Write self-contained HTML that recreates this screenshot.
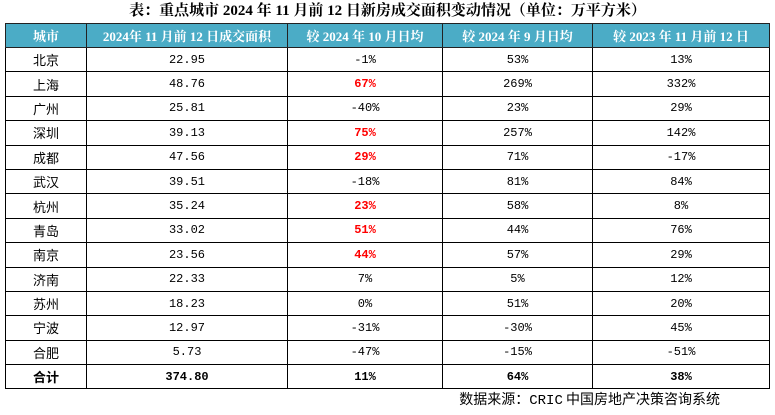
<!DOCTYPE html>
<html><head><meta charset="utf-8"><style>
body{margin:0;width:775px;height:415px;background:#fff;position:relative;overflow:hidden;font-family:"Liberation Serif","Noto Serif CJK SC","Noto Sans CJK SC",serif;}
.title{position:absolute;left:0;width:775px;top:0;height:22px;text-align:center;font-weight:bold;font-size:15px;line-height:22px;color:#000;}
table{position:absolute;left:5px;top:23px;border-collapse:collapse;table-layout:fixed;font-size:13px;}
td,th{text-align:center;padding:0;height:23.4px;border:1px solid #000;border-left:1px solid #000;}
td{font-family:"Liberation Mono","Noto Sans CJK SC",monospace;font-size:12px;}
td:first-child{font-family:"Noto Sans CJK SC",sans-serif;font-size:13px;}
th{background:#4bacc6;color:#fff;font-weight:bold;font-size:13px;height:23px;border-color:#222;}
tr td{border-top:1.5px solid #000;}
.red{color:#f00;font-weight:bold;}
.tot td{font-weight:bold;}
.src{position:absolute;right:55px;top:389px;font-size:14px;font-family:"Noto Sans CJK SC",sans-serif;}
</style></head><body>
<div class="title">表：重点城市 2024 年 11 月前 12 日新房成交面积变动情况（单位：万平方米）</div>
<table>
<colgroup><col style="width:81px"><col style="width:201px"><col style="width:155px"><col style="width:150px"><col style="width:177px"></colgroup>
<tr><th>城市</th><th>2024年 11 月前 12 日成交面积</th><th>较 2024 年 10 月日均</th><th>较 2024 年 9 月日均</th><th>较 2023 年 11 月前 12 日</th></tr>
<tr><td>北京</td><td>22.95</td><td>-1%</td><td>53%</td><td>13%</td></tr>
<tr><td>上海</td><td>48.76</td><td class="red">67%</td><td>269%</td><td>332%</td></tr>
<tr><td>广州</td><td>25.81</td><td>-40%</td><td>23%</td><td>29%</td></tr>
<tr><td>深圳</td><td>39.13</td><td class="red">75%</td><td>257%</td><td>142%</td></tr>
<tr><td>成都</td><td>47.56</td><td class="red">29%</td><td>71%</td><td>-17%</td></tr>
<tr><td>武汉</td><td>39.51</td><td>-18%</td><td>81%</td><td>84%</td></tr>
<tr><td>杭州</td><td>35.24</td><td class="red">23%</td><td>58%</td><td>8%</td></tr>
<tr><td>青岛</td><td>33.02</td><td class="red">51%</td><td>44%</td><td>76%</td></tr>
<tr><td>南京</td><td>23.56</td><td class="red">44%</td><td>57%</td><td>29%</td></tr>
<tr><td>济南</td><td>22.33</td><td>7%</td><td>5%</td><td>12%</td></tr>
<tr><td>苏州</td><td>18.23</td><td>0%</td><td>51%</td><td>20%</td></tr>
<tr><td>宁波</td><td>12.97</td><td>-31%</td><td>-30%</td><td>45%</td></tr>
<tr><td>合肥</td><td>5.73</td><td>-47%</td><td>-15%</td><td>-51%</td></tr>
<tr class="tot"><td>合计</td><td>374.80</td><td>11%</td><td>64%</td><td>38%</td></tr>
</table>
<div class="src">数据来源：<span style="font-family:'Liberation Mono',monospace">CRIC</span> 中国房地产决策咨询系统</div>
</body></html>
